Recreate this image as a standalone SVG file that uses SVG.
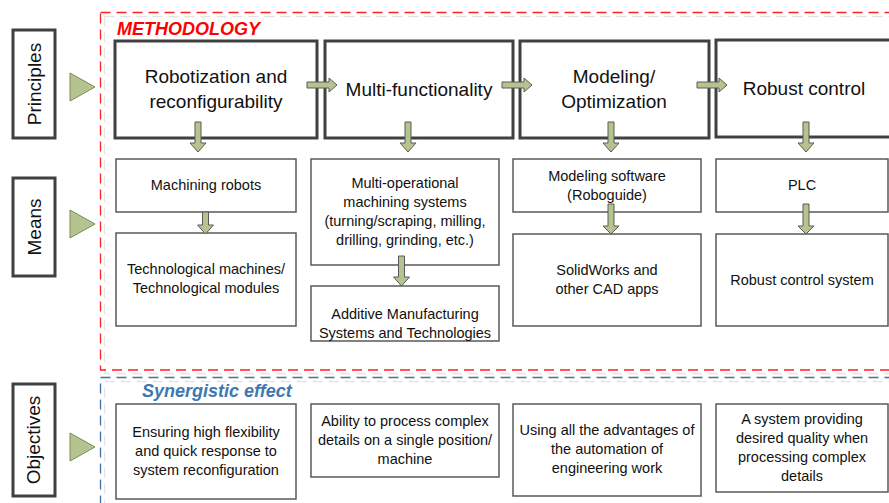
<svg xmlns="http://www.w3.org/2000/svg" width="889" height="503" viewBox="0 0 889 503">
<defs>
<style>
text{font-family:"Liberation Sans",Arial,sans-serif;fill:#111;text-anchor:middle}
.big{font-size:19px}
.sm{font-size:14.5px}
.side{fill:#fff;stroke:#404040;stroke-width:3}
.pbox{fill:#fff;stroke:#404040;stroke-width:3}
.mbox{fill:#fff;stroke:#595959;stroke-width:1.5}
.arr{fill:#b5c48f;stroke:#5a5a5a;stroke-width:1}
.tri{fill:#b5c48f;stroke:#7a8a5a;stroke-width:1}
.title{font-size:18px;font-weight:bold;font-style:italic;text-anchor:start}
</style>
</defs>
<rect width="889" height="503" fill="#fff"/>

<g id="frames" fill="none">
<rect x="104.5" y="16.5" width="800" height="357" stroke="#e3e3e3" stroke-width="1.3" stroke-dasharray="10 6"/>
<rect x="100.5" y="12.5" width="800" height="357.5" stroke="#ff2020" stroke-width="1.3" stroke-dasharray="10 6"/>
<rect x="104.5" y="381.5" width="800" height="200" stroke="#e3e3e3" stroke-width="1.3" stroke-dasharray="10 6"/>
<rect x="100.5" y="377.5" width="800" height="200" stroke="#41719c" stroke-width="1.3" stroke-dasharray="10 6"/>
<text class="title" x="117" y="35" fill="#ff0000" style="fill:#ff0000">METHODOLOGY</text>
<text class="title" x="142" y="397" style="fill:#3f78b0">Synergistic effect</text>
</g>

<g id="side-principles">
<rect class="side" x="13" y="30" width="42" height="108"/>
<text class="big" transform="translate(41,84) rotate(-90)">Principles</text>
<polygon class="tri" points="70,73 95,87 70,101"/>
</g>
<g id="side-means">
<rect class="side" x="13" y="178" width="42" height="98"/>
<text class="big" transform="translate(41,227) rotate(-90)">Means</text>
<polygon class="tri" points="70,210 95,224 70,238"/>
</g>
<g id="side-objectives">
<rect class="side" x="13" y="384" width="42" height="112"/>
<text class="big" transform="translate(40,440) rotate(-90)">Objectives</text>
<polygon class="tri" points="70,433 95,447 70,461"/>
</g>

<g id="p1">
<rect class="pbox" x="115" y="41" width="202" height="97"/>
<text class="big" x="216" y="83">Robotization and</text>
<text class="big" x="216" y="108">reconfigurability</text>
</g>
<g id="p2">
<rect class="pbox" x="325" y="41" width="188" height="97"/>
<text class="big" x="419" y="96">Multi-functionality</text>
</g>
<g id="p3">
<rect class="pbox" x="520" y="41" width="189" height="97"/>
<text class="big" x="614" y="83">Modeling/</text>
<text class="big" x="614" y="108">Optimization</text>
</g>
<g id="p4">
<rect class="pbox" x="716" y="40" width="180" height="97"/>
<text class="big" x="804" y="95">Robust control</text>
</g>

<g id="m1a">
<rect class="mbox" x="116" y="159" width="180" height="53"/>
<text class="sm" x="206" y="190">Machining robots</text>
</g>
<g id="m1b">
<rect class="mbox" x="116" y="233" width="180" height="93"/>
<text class="sm" x="206" y="274">Technological machines/</text>
<text class="sm" x="206" y="293">Technological modules</text>
</g>
<g id="m2a">
<rect class="mbox" x="311" y="159" width="188" height="106"/>
<text class="sm" x="405" y="188">Multi-operational</text>
<text class="sm" x="405" y="207">machining systems</text>
<text class="sm" x="405" y="226">(turning/scraping, milling,</text>
<text class="sm" x="405" y="245">drilling, grinding, etc.)</text>
</g>
<g id="m2b">
<rect class="mbox" x="311" y="286" width="188" height="55"/>
<text class="sm" x="405" y="319">Additive Manufacturing</text>
<text class="sm" x="405" y="338">Systems and Technologies</text>
</g>
<g id="m3a">
<rect class="mbox" x="513" y="159" width="188" height="53"/>
<text class="sm" x="607" y="181">Modeling software</text>
<text class="sm" x="607" y="200">(Roboguide)</text>
</g>
<g id="m3b">
<rect class="mbox" x="513" y="234" width="188" height="92"/>
<text class="sm" x="607" y="275">SolidWorks and</text>
<text class="sm" x="607" y="294">other CAD apps</text>
</g>
<g id="m4a">
<rect class="mbox" x="716" y="159" width="172" height="53"/>
<text class="sm" x="802" y="190">PLC</text>
</g>
<g id="m4b">
<rect class="mbox" x="716" y="234" width="172" height="92"/>
<text class="sm" x="802" y="285">Robust control system</text>
</g>

<g id="o1">
<rect class="mbox" x="116" y="404" width="180" height="95"/>
<text class="sm" x="206" y="437">Ensuring high flexibility</text>
<text class="sm" x="206" y="456">and quick response to</text>
<text class="sm" x="206" y="475">system reconfiguration</text>
</g>
<g id="o2">
<rect class="mbox" x="311" y="404" width="188" height="73"/>
<text class="sm" x="405" y="426">Ability to process complex</text>
<text class="sm" x="405" y="445">details on a single position/</text>
<text class="sm" x="405" y="464">machine</text>
</g>
<g id="o3">
<rect class="mbox" x="513" y="404" width="188" height="92"/>
<text class="sm" x="607" y="435">Using all the advantages of</text>
<text class="sm" x="607" y="454">the automation of</text>
<text class="sm" x="607" y="473">engineering work</text>
</g>
<g id="o4">
<rect class="mbox" x="716" y="404" width="172" height="88"/>
<text class="sm" x="802" y="424">A system providing</text>
<text class="sm" x="802" y="443">desired quality when</text>
<text class="sm" x="802" y="462">processing complex</text>
<text class="sm" x="802" y="481">details</text>
</g>

<g id="connectors">
<polygon class="arr" points="307,82 329,82 329,78 337,85 329,92 329,88 307,88"/>
<polygon class="arr" points="502,82 524,82 524,78 532,85 524,92 524,88 502,88"/>
<polygon class="arr" points="697,82 719,82 719,78 727,85 719,92 719,88 697,88"/>
<polygon class="arr" points="195,122 201,122 201,143 206,143 198,152 190,143 195,143"/>
<polygon class="arr" points="405,122 411,122 411,143 416,143 408,152 400,143 405,143"/>
<polygon class="arr" points="608,122 614,122 614,143 619,143 611,152 603,143 608,143"/>
<polygon class="arr" points="803,122 809,122 809,143 814,143 806,152 798,143 803,143"/>
<polygon class="arr" points="202.5,212 208.5,212 208.5,225 213.5,225 205.5,234 197.5,225 202.5,225"/>
<polygon class="arr" points="398.5,256 404.5,256 404.5,277 409.5,277 401.5,286 393.5,277 398.5,277"/>
<polygon class="arr" points="608,204 614,204 614,226 619,226 611,234 603,226 608,226"/>
<polygon class="arr" points="803,204 809,204 809,226 814,226 806,234 798,226 803,226"/>
</g>
</svg>
